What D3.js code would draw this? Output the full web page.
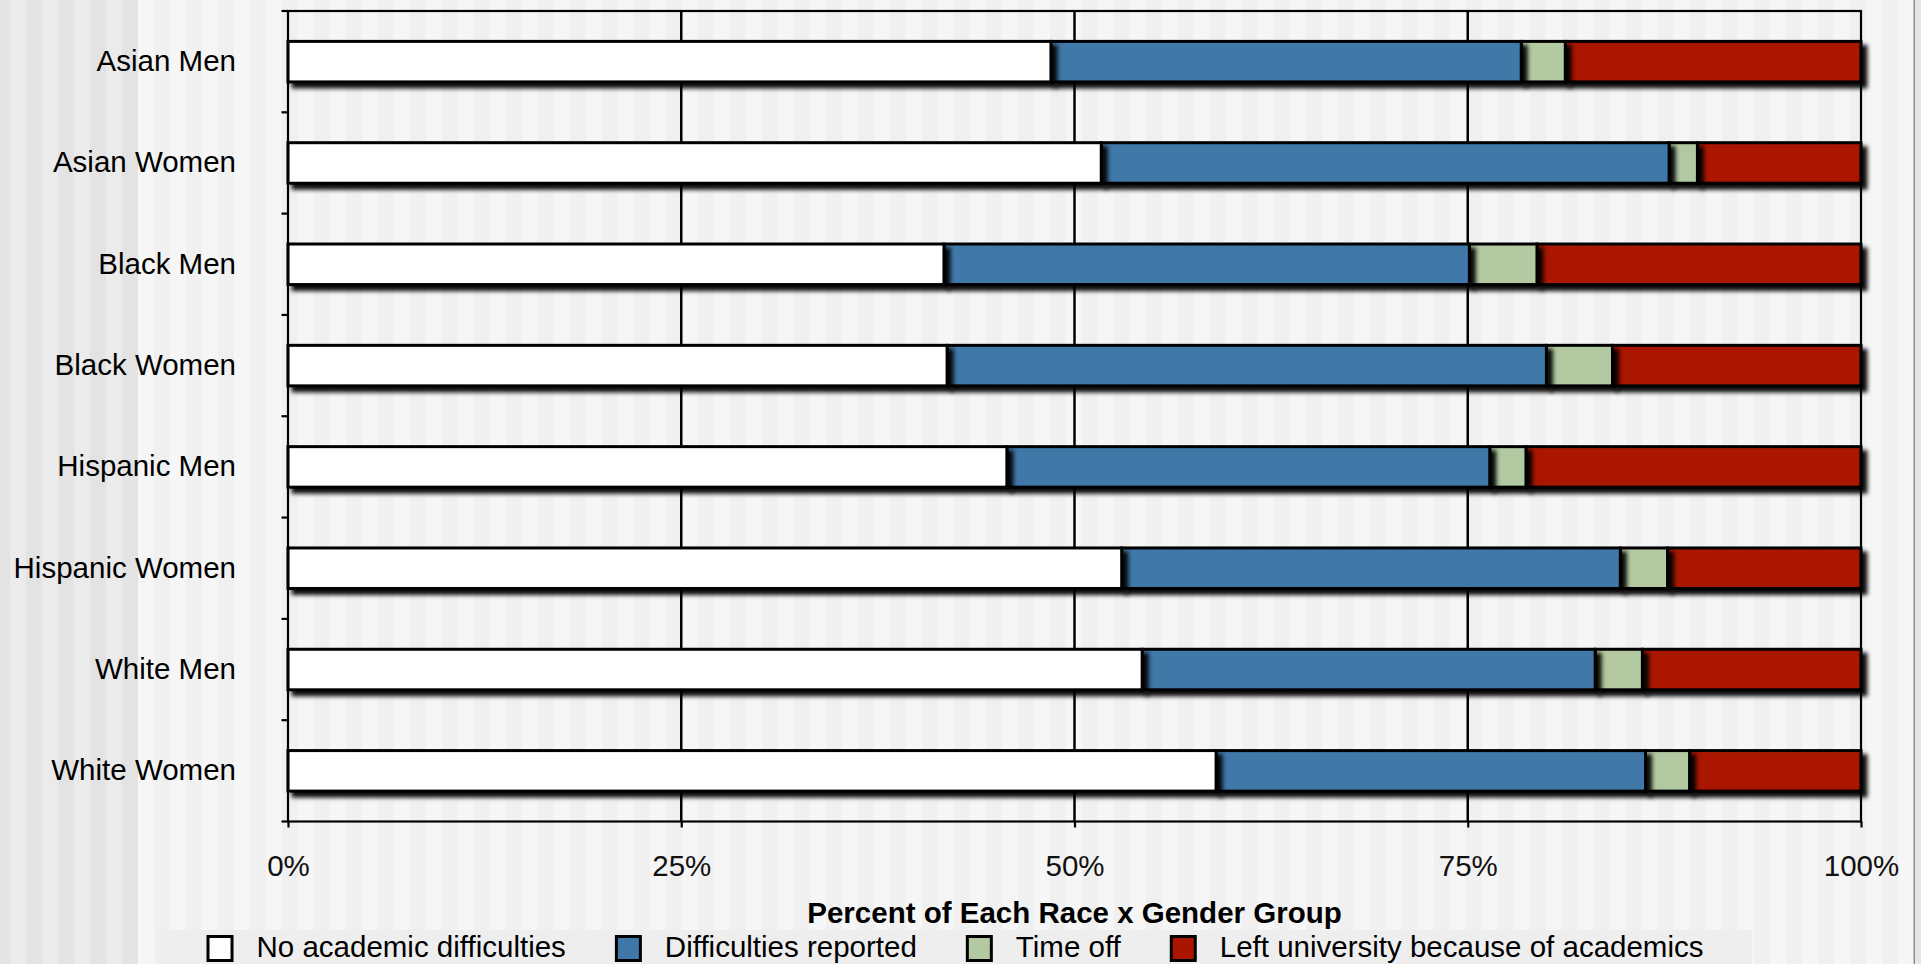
<!DOCTYPE html>
<html>
<head>
<meta charset="utf-8">
<script src="https://cdn.jsdelivr.net/npm/d3@7"></script>
<style>
  html, body { margin: 0; padding: 0; background: #f3f3f3; }
  svg { display: block; font-family: "Liberation Sans", Arial, Helvetica, sans-serif; }
</style>
</head>
<body>
<svg id="chart" width="1921" height="964"></svg>
<script>
// Academic outcomes by race and gender, as percent of each group
const categories = ["Asian Men", "Asian Women", "Black Men", "Black Women",
                    "Hispanic Men", "Hispanic Women", "White Men", "White Women"];
const seriesNames = ["No academic difficulties", "Difficulties reported", "Time off",
                     "Left university because of academics"];
const noDifficulties       = [48.5, 51.7, 41.7, 41.9, 45.7, 53.0, 54.3, 59.0];
const difficultiesReported = [29.9, 36.1, 33.4, 38.1, 30.7, 31.7, 28.8, 27.3];
const timeOff              = [2.8, 1.8, 4.3, 4.2, 2.3, 3.0, 3.0, 2.8];
const leftUniversity       = [18.8, 10.4, 20.6, 15.8, 21.3, 12.3, 13.9, 10.9];
const xTickValues = [0, 25, 50, 75, 100];
const xTickLabels = ["0%", "25%", "50%", "75%", "100%"];
const axisTitle = "Percent of Each Race x Gender Group";
const seriesColors = ["#ffffff", "#3f78a8", "#b2c9a2", "#aa1500"];

(function draw() {
  const W = 1921, H = 964;
  const svg = d3.select("#chart");
  const FONT = 29.5;

  // ---- striped backdrop ----
  const bg = svg.append("g");
  d3.range(-6, W, 16).forEach((sx, i) => {
    const dark = sx < 138;
    bg.append("rect")
      .attr("x", sx).attr("y", 0).attr("width", 16).attr("height", H)
      .attr("fill", dark ? (i % 2 ? "#ebebeb" : "#e3e3e3") : (i % 2 ? "#f6f6f6" : "#f0f0f0"));
  });
  bg.append("rect").attr("x", 1913.5).attr("y", 0).attr("width", 1.5).attr("height", H).attr("fill", "#8f8f8f");
  bg.append("rect").attr("x", 1915).attr("y", 0).attr("width", 6).attr("height", H).attr("fill", "#e6e6e6");

  // ---- scales ----
  const plotLeft = 288, plotRight = 1861, plotTop = 11, plotBottom = 821.5;
  const x = d3.scaleLinear().domain([0, 100]).range([plotLeft, plotRight]);
  const y = d3.scaleBand().domain(categories).range([plotTop, plotBottom])
    .paddingInner(0.6).paddingOuter(0.3);

  // shadow under each bar segment
  const defs = svg.append("defs");
  const f = defs.append("filter").attr("id", "barShadow")
    .attr("filterUnits", "userSpaceOnUse")
    .attr("x", 0).attr("y", 0).attr("width", W).attr("height", H);
  f.append("feDropShadow").attr("dx", 5).attr("dy", 5).attr("stdDeviation", 2)
    .attr("flood-color", "#000").attr("flood-opacity", 0.95);

  // ---- gridlines ----
  svg.append("g").selectAll("line")
    .data(xTickValues.filter(v => v > 0 && v < 100))
    .join("line")
    .attr("x1", d => x(d)).attr("x2", d => x(d))
    .attr("y1", plotTop).attr("y2", plotBottom)
    .attr("stroke", "#000").attr("stroke-width", 2.5);

  // ---- stacked bars ----
  const rows = categories.map((c, i) => ({
    cat: c,
    [seriesNames[0]]: noDifficulties[i],
    [seriesNames[1]]: difficultiesReported[i],
    [seriesNames[2]]: timeOff[i],
    [seriesNames[3]]: leftUniversity[i]
  }));
  const stacked = d3.stack().keys(seriesNames)(rows);

  // right-most segments go down first so each shadow falls over its neighbour
  svg.append("g").selectAll("g")
    .data(stacked.slice().reverse())
    .join("g")
    .attr("fill", d => seriesColors[seriesNames.indexOf(d.key)])
    .selectAll("rect")
    .data(d => d)
    .join("rect")
    .attr("x", d => x(d[0]))
    .attr("y", d => y(d.data.cat))
    .attr("width", d => x(d[1]) - x(d[0]))
    .attr("height", y.bandwidth())
    .attr("stroke", "#000")
    .attr("stroke-width", 3)
    .attr("filter", "url(#barShadow)");

  // ---- frame ----
  svg.append("rect")
    .attr("x", plotLeft).attr("y", plotTop)
    .attr("width", plotRight - plotLeft).attr("height", plotBottom - plotTop)
    .attr("fill", "none").attr("stroke", "#000").attr("stroke-width", 2.2);

  // ---- y axis: category labels and boundary ticks ----
  const yAxis = svg.append("g")
    .attr("transform", `translate(${plotLeft},0)`)
    .call(d3.axisLeft(y).tickSize(0).tickPadding(52));
  yAxis.select(".domain").remove();
  yAxis.selectAll("text")
    .attr("font-size", FONT).attr("fill", "#000")
    .attr("font-family", "'Liberation Sans', Arial, sans-serif");

  const yTicks = categories.map(c => y(c) + y.bandwidth() / 2 - y.step() / 2).concat([plotBottom]);
  svg.append("g").selectAll("line")
    .data(yTicks)
    .join("line")
    .attr("x1", plotLeft - 6.5).attr("x2", plotLeft)
    .attr("y1", d => d).attr("y2", d => d)
    .attr("stroke", "#000").attr("stroke-width", 2.2);

  // ---- x axis ----
  const xAxis = svg.append("g")
    .attr("transform", `translate(0,${plotBottom})`)
    .call(d3.axisBottom(x).tickValues(xTickValues)
      .tickFormat((d, i) => xTickLabels[i])
      .tickSizeInner(6).tickSizeOuter(0).tickPadding(28));
  xAxis.select(".domain").remove();
  xAxis.selectAll(".tick line").attr("stroke", "#000").attr("stroke-width", 2.2);
  xAxis.selectAll("text")
    .attr("font-size", FONT).attr("fill", "#111")
    .attr("font-family", "'Liberation Sans', Arial, sans-serif");

  svg.append("text")
    .attr("x", (plotLeft + plotRight) / 2).attr("y", 923)
    .attr("text-anchor", "middle")
    .attr("font-size", FONT).attr("font-weight", "bold").attr("fill", "#000")
    .text(axisTitle);

  // ---- legend ----
  const legendBand = { x: 158, y: 930, w: 1594, h: 34 };
  svg.append("rect")
    .attr("x", legendBand.x).attr("y", legendBand.y)
    .attr("width", legendBand.w).attr("height", legendBand.h)
    .attr("fill", "#eeeeee");

  const legend = svg.append("g");
  const items = legend.selectAll("g").data(seriesNames).join("g");
  items.append("rect")
    .attr("x", 1.5).attr("y", 936.5).attr("width", 24).attr("height", 24)
    .attr("fill", (d, i) => seriesColors[i])
    .attr("stroke", "#000").attr("stroke-width", 3);
  items.append("text")
    .attr("x", 50).attr("y", 957)
    .attr("font-size", FONT).attr("fill", "#000")
    .text(d => d);

  let cursor = 0;
  const offsets = [];
  items.each(function () {
    offsets.push(cursor);
    const tw = d3.select(this).select("text").node().getComputedTextLength();
    cursor += 50 + tw + 49;
  });
  const totalW = cursor - 49;
  const startX = legendBand.x + legendBand.w / 2 - totalW / 2;
  items.attr("transform", (d, i) => `translate(${startX + offsets[i]},0)`);
})();
</script>
</body>
</html>
